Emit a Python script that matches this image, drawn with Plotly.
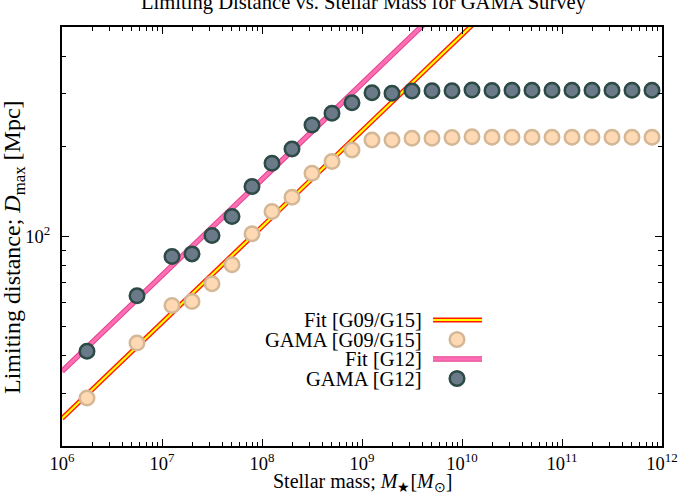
import plotly.graph_objects as go

# ---------------- data ----------------
log_mass = [6.25, 6.75, 7.1, 7.3, 7.5, 7.7, 7.9, 8.1, 8.3, 8.5, 8.7, 8.9,
            9.1, 9.3, 9.5, 9.7, 9.9, 10.1, 10.3, 10.5, 10.7, 10.9, 11.1, 11.3, 11.5, 11.7, 11.9]
dmax_g12 = [41.4, 63.4, 85.8, 87.5, 100.8, 116.6, 146.8, 175.7, 195.9, 235.6, 257.7, 279.6,
            301.5, 300.6, 306.0, 306.5, 306.5, 308.0, 307.0, 307.5, 307.5, 307.5, 307.5, 307.5, 307.5, 307.5, 307.5]
dmax_g09 = [28.9, 44.1, 58.9, 60.7, 69.5, 80.5, 102.1, 121.1, 135.3, 162.6, 177.8, 194.5,
            209.8, 210.0, 212.8, 212.8, 214.0, 215.0, 214.5, 214.5, 214.5, 214.5, 214.5, 214.5, 214.5, 214.5, 214.5]
mass = [10 ** v for v in log_mass]

# power-law fits: D = norm * (M / 1e6) ** slope
fit_g12_norm, fit_g12_slope = 35.5, 0.32
fit_g09_norm, fit_g09_slope = 24.7, 0.32
fit_mass = [1e6, 1e12]

x_major = [1e6, 1e7, 1e8, 1e9, 1e10, 1e11, 1e12]
x_labels = ["10<sup>6</sup>", "10<sup>7</sup>", "10<sup>8</sup>", "10<sup>9</sup>",
            "10<sup>10</sup>", "10<sup>11</sup>", "10<sup>12</sup>"]
y_major = [100]
y_labels = ["10<sup>2</sup>"]

FONT = "Liberation Serif, Times New Roman, serif"
W, H = 680, 494
L, R, T, B = 62, 662, 27, 446

def pxx(p):
    return (p - L) / (R - L)

def pxy(p):
    return (B - p) / (B - T)

fit_g12 = [fit_g12_norm * (m / 1e6) ** fit_g12_slope for m in fit_mass]
fit_g09 = [fit_g09_norm * (m / 1e6) ** fit_g09_slope for m in fit_mass]

fig = go.Figure()
# Fit G09/G15 (red border, yellow core)
fig.add_trace(go.Scatter(x=fit_mass, y=fit_g09, mode="lines",
                         line=dict(color="#ff1a00", width=5), showlegend=False, hoverinfo="skip"))
fig.add_trace(go.Scatter(x=fit_mass, y=fit_g09, mode="lines",
                         line=dict(color="#ffff00", width=2.2), showlegend=False))
# Fit G12 (pink)
fig.add_trace(go.Scatter(x=fit_mass, y=fit_g12, mode="lines",
                         line=dict(color="#e0448c", width=5.5), showlegend=False, hoverinfo="skip"))
fig.add_trace(go.Scatter(x=fit_mass, y=fit_g12, mode="lines",
                         line=dict(color="#ff6eb4", width=3.5), showlegend=False))
# GAMA points
fig.add_trace(go.Scatter(x=mass, y=dmax_g09, mode="markers", showlegend=False,
                         marker=dict(size=14.5, color="#ffd8b4",
                                     line=dict(color="#d4b896", width=2.5))))
fig.add_trace(go.Scatter(x=mass, y=dmax_g12, mode="markers", showlegend=False,
                         marker=dict(size=14.5, color="#6b7a88",
                                     line=dict(color="#2c4a46", width=2.5))))

minor_x = [k * 10 ** e for e in range(6, 12) for k in range(2, 10)]
minor_y = [20, 30, 40, 50, 60, 70, 80, 90, 200, 300, 400, 500]

axis_common = dict(showline=True, linecolor="black", linewidth=2, mirror="allticks",
                   ticks="inside", ticklen=7, tickwidth=1.2, tickcolor="black",
                   showgrid=False, zeroline=False,
                   tickfont=dict(family=FONT, size=18.5, color="black"))
fig.update_xaxes(type="log", range=[6, 12], tickmode="array", tickvals=x_major, ticktext=x_labels,
                 minor=dict(tickmode="array", tickvals=minor_x, ticks="inside", ticklen=4,
                            tickwidth=1, tickcolor="black"),
                 **axis_common)
fig.update_yaxes(type="log", range=[1.30103, 2.69897], tickmode="array", tickvals=y_major, ticktext=y_labels,
                 ticklabelstandoff=6,
                 minor=dict(tickmode="array", tickvals=minor_y, ticks="inside", ticklen=4,
                            tickwidth=1, tickcolor="black"),
                 **axis_common)

ann = []
ann.append(dict(text="Limiting Distance vs. Stellar Mass for GAMA Survey", x=pxx(364), y=pxy(3),
                xref="paper", yref="paper", xanchor="center", yanchor="middle", showarrow=False,
                font=dict(family=FONT, size=20.6, color="black")))
ann.append(dict(text="Stellar mass; <i>M</i><sub>★</sub>[<i>M</i><sub>⊙</sub>]", x=pxx(362), y=pxy(482),
                xref="paper", yref="paper", xanchor="center", yanchor="middle", showarrow=False,
                font=dict(family=FONT, size=20, color="black")))
ann.append(dict(text="Limiting distance; <i>D</i><sub>max</sub> [Mpc]", x=pxx(14), y=pxy(247),
                xref="paper", yref="paper", xanchor="center", yanchor="middle", showarrow=False,
                textangle=-90, font=dict(family=FONT, size=24, color="black")))

legend_rows = ["Fit [G09/G15]", "GAMA [G09/G15]", "Fit [G12]", "GAMA [G12]"]
legend_y = [320, 339.5, 359, 378.5]
for txt, yy in zip(legend_rows, legend_y):
    ann.append(dict(text=txt, x=pxx(424), y=pxy(yy), xref="paper", yref="paper",
                    xanchor="right", yanchor="middle", showarrow=False,
                    font=dict(family=FONT, size=20.5, color="black")))

shapes = []
# legend samples
shapes.append(dict(type="line", xref="paper", yref="paper", x0=pxx(433), x1=pxx(482),
                   y0=pxy(320), y1=pxy(320), line=dict(color="#ff1a00", width=5)))
shapes.append(dict(type="line", xref="paper", yref="paper", x0=pxx(433), x1=pxx(482),
                   y0=pxy(320), y1=pxy(320), line=dict(color="#ffff00", width=2.2)))
shapes.append(dict(type="line", xref="paper", yref="paper", x0=pxx(433), x1=pxx(482),
                   y0=pxy(359), y1=pxy(359), line=dict(color="#e0448c", width=5.5)))
shapes.append(dict(type="line", xref="paper", yref="paper", x0=pxx(433), x1=pxx(482),
                   y0=pxy(359), y1=pxy(359), line=dict(color="#ff6eb4", width=3.5)))
r = 7.3
shapes.append(dict(type="circle", xref="paper", yref="paper", x0=pxx(457 - r), x1=pxx(457 + r),
                   y0=pxy(339.5 + r), y1=pxy(339.5 - r), fillcolor="#ffd8b4",
                   line=dict(color="#d4b896", width=2.5)))
shapes.append(dict(type="circle", xref="paper", yref="paper", x0=pxx(457 - r), x1=pxx(457 + r),
                   y0=pxy(378.5 + r), y1=pxy(378.5 - r), fillcolor="#6b7a88",
                   line=dict(color="#2c4a46", width=2.5)))

fig.update_layout(width=W, height=H, margin=dict(l=L, r=W - R, t=T, b=H - B, autoexpand=False),
                  paper_bgcolor="white", plot_bgcolor="white", showlegend=False,
                  annotations=ann, shapes=shapes,
                  font=dict(family=FONT, size=17, color="black"))

fig.write_html("out.html")
